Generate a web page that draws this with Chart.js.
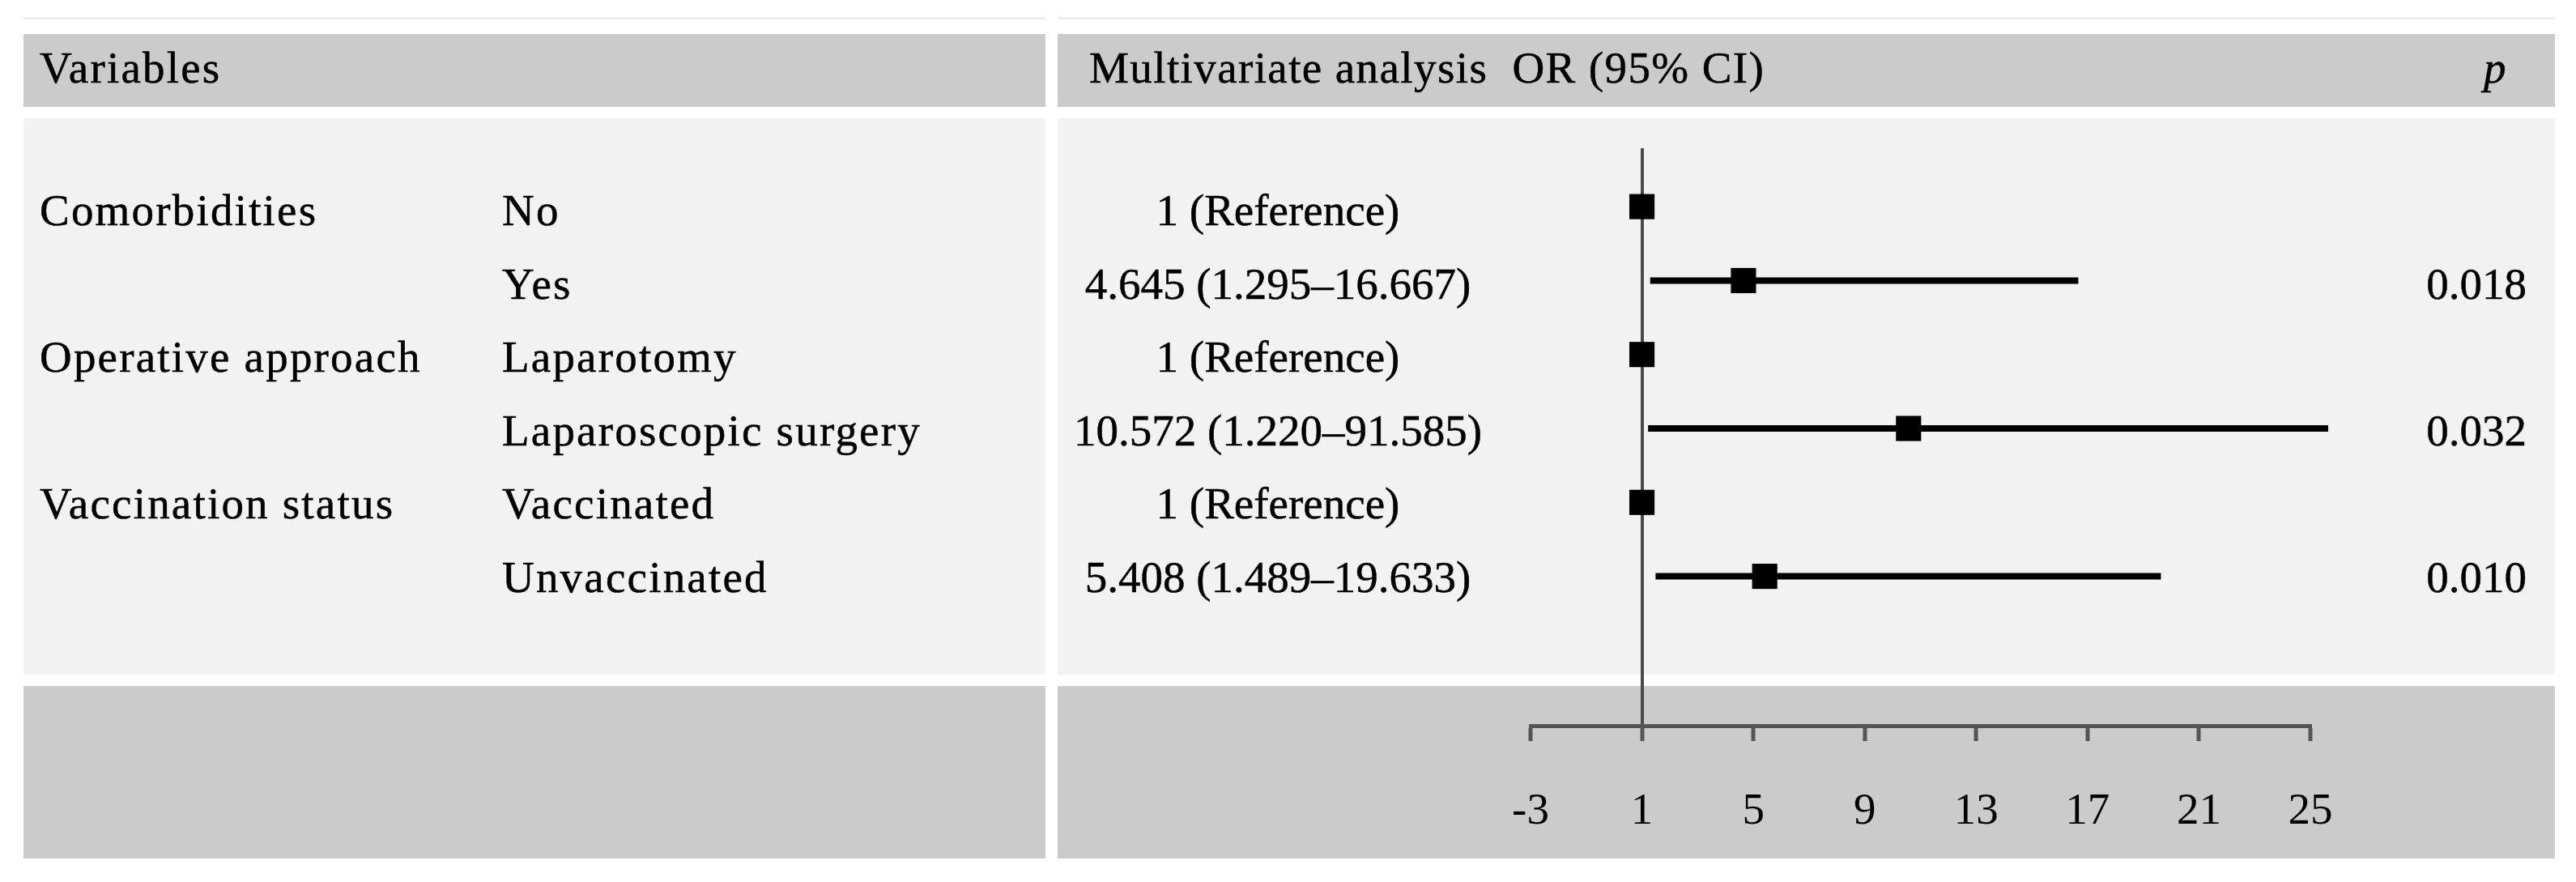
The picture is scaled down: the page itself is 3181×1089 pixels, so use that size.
<!DOCTYPE html>
<html>
<head>
<meta charset="utf-8">
<title>Multivariate analysis forest plot</title>
<script src="https://cdn.jsdelivr.net/npm/chart.js@4.4.0/dist/chart.umd.min.js"></script>
<style>
  html, body { margin: 0; padding: 0; background: #fff; }
  body {
    width: 3181px; height: 1089px; position: relative; overflow: hidden;
    font-family: "Liberation Serif", "Times New Roman", serif; color: #000;
  }
  .band { position: absolute; }
  .dark { background: #cbcbcb; }
  .light { background: #f2f2f2; }
  .rule { background: #ededed; }
  .txt {
    position: absolute; font-size: 55px; line-height: 1; white-space: pre;
    -webkit-text-stroke: 0.5px #000;
  }
  .label { letter-spacing: 2.2px; }
  .num { text-align: center; width: 600px; }
  .pval { text-align: right; width: 220px; }
  #plot { position: absolute; left: 1306px; top: 146px; width: 1849px; height: 914px; }
</style>
</head>
<body>
  <!-- table background -->
  <div class="band rule"  style="left:29px;   top:21px;  width:1262px; height:3px;"></div>
  <div class="band rule"  style="left:1306px; top:21px;  width:1849px; height:3px;"></div>
  <div class="band dark"  style="left:29px;   top:42px;  width:1262px; height:90px;"></div>
  <div class="band dark"  style="left:1306px; top:42px;  width:1849px; height:90px;"></div>
  <div class="band light" style="left:29px;   top:146px; width:1262px; height:687px;"></div>
  <div class="band light" style="left:1306px; top:146px; width:1849px; height:687px;"></div>
  <div class="band dark"  style="left:29px;   top:847px; width:1262px; height:213px;"></div>
  <div class="band dark"  style="left:1306px; top:847px; width:1849px; height:213px;"></div>

  <!-- header -->
  <div class="txt label" style="left:49px; top:56px;">Variables</div>
  <div class="txt" style="left:1345px; top:56px; letter-spacing:1.4px;">Multivariate analysis  OR (95% CI)</div>
  <div class="txt" style="left:3067px; top:56px; font-style:italic;">p</div>

  <div id="rows"></div>
  <div id="plot"><canvas id="forest"></canvas></div>

<script>
// Forest plot of the multivariate model

const groups = ['Comorbidities', '', 'Operative approach', '', 'Vaccination status', ''];
const levels = ['No', 'Yes', 'Laparotomy', 'Laparoscopic surgery', 'Vaccinated', 'Unvaccinated'];
const orLabels = ['1 (Reference)', '4.645 (1.295–16.667)', '1 (Reference)',
                  '10.572 (1.220–91.585)', '1 (Reference)', '5.408 (1.489–19.633)'];
const pLabels = ['', '0.018', '', '0.032', '', '0.010'];

const orValues = [1, 4.645, 1, 10.572, 1, 5.408];
const ciLow = [null, 1.295, null, 1.220, null, 1.489];
const ciHigh = [null, 16.667, null, 91.585, null, 19.633];

const xTicks = [-3, 1, 5, 9, 13, 17, 21, 25];

// Table text, one line per row
const FIRST_BASELINE = 278;
const ROW_STEP = 90.6;
const ASCENT = 46; // baseline offset for 55px Liberation Serif at line-height 1

function addText(text, cls, left, baseline) {
  const el = document.createElement('div');
  el.className = 'txt ' + cls;
  el.textContent = text;
  el.style.left = left + 'px';
  el.style.top = (baseline - ASCENT) + 'px';
  document.getElementById('rows').appendChild(el);
}

levels.forEach((lvl, i) => {
  const base = FIRST_BASELINE + ROW_STEP * i;
  if (groups[i]) addText(groups[i], 'label', 49, base);
  addText(lvl, 'label', 620, base);
  addText(orLabels[i], 'num', 1578 - 300, base);
  if (pLabels[i]) addText(pLabels[i], 'pval', 3120 - 220, base);
});

// Chart datasets: one segment per confidence interval, then the squares
const ciSets = [];
orValues.forEach((v, i) => {
  if (ciLow[i] === null) return;
  ciSets.push({
    data: [{ x: ciLow[i], y: i }, { x: ciHigh[i], y: i }],
    showLine: true,
    borderColor: '#000',
    borderWidth: 8,
    pointRadius: 0,
    clip: { left: 10, top: 10, right: 22, bottom: 10 },
  });
});

const squareSet = {
  data: orValues.map((v, i) => ({ x: v, y: i })),
  pointStyle: 'rect',
  pointRadius: 22,
  pointHoverRadius: 22,
  backgroundColor: '#000',
  borderWidth: 0,
};

new Chart(document.getElementById('forest'), {
  type: 'scatter',
  data: { datasets: [...ciSets, squareSet] },
  options: {
    responsive: true,
    maintainAspectRatio: false,
    animation: false,
    events: [],
    layout: { padding: { left: 584, right: 302, top: 37, bottom: 0 } },
    plugins: { legend: { display: false }, tooltip: { enabled: false } },
    scales: {
      x: {
        type: 'linear',
        position: 'bottom',
        min: -3,
        max: 25,
        afterBuildTicks: (scale) => { scale.ticks = xTicks.map(v => ({ value: v })); },
        afterFit: (scale) => { scale.height = 164; },
        ticks: {
          color: '#000',
          padding: 55,
          maxRotation: 0,
          autoSkip: false,
          font: { family: "'Liberation Serif', serif", size: 55 },
        },
        grid: {
          color: (ctx) => (ctx.tick && ctx.tick.value === 1 ? '#4a4a4a' : 'rgba(0,0,0,0)'),
          lineWidth: 4,
          tickColor: '#555',
          tickWidth: 5,
          tickLength: 19,
        },
        border: { display: true, color: '#555', width: 5 },
      },
      y: {
        type: 'linear',
        display: false,
        reverse: true,
        min: -0.79,
        max: 7.02,
      },
    },
  },
});
</script>
</body>
</html>
